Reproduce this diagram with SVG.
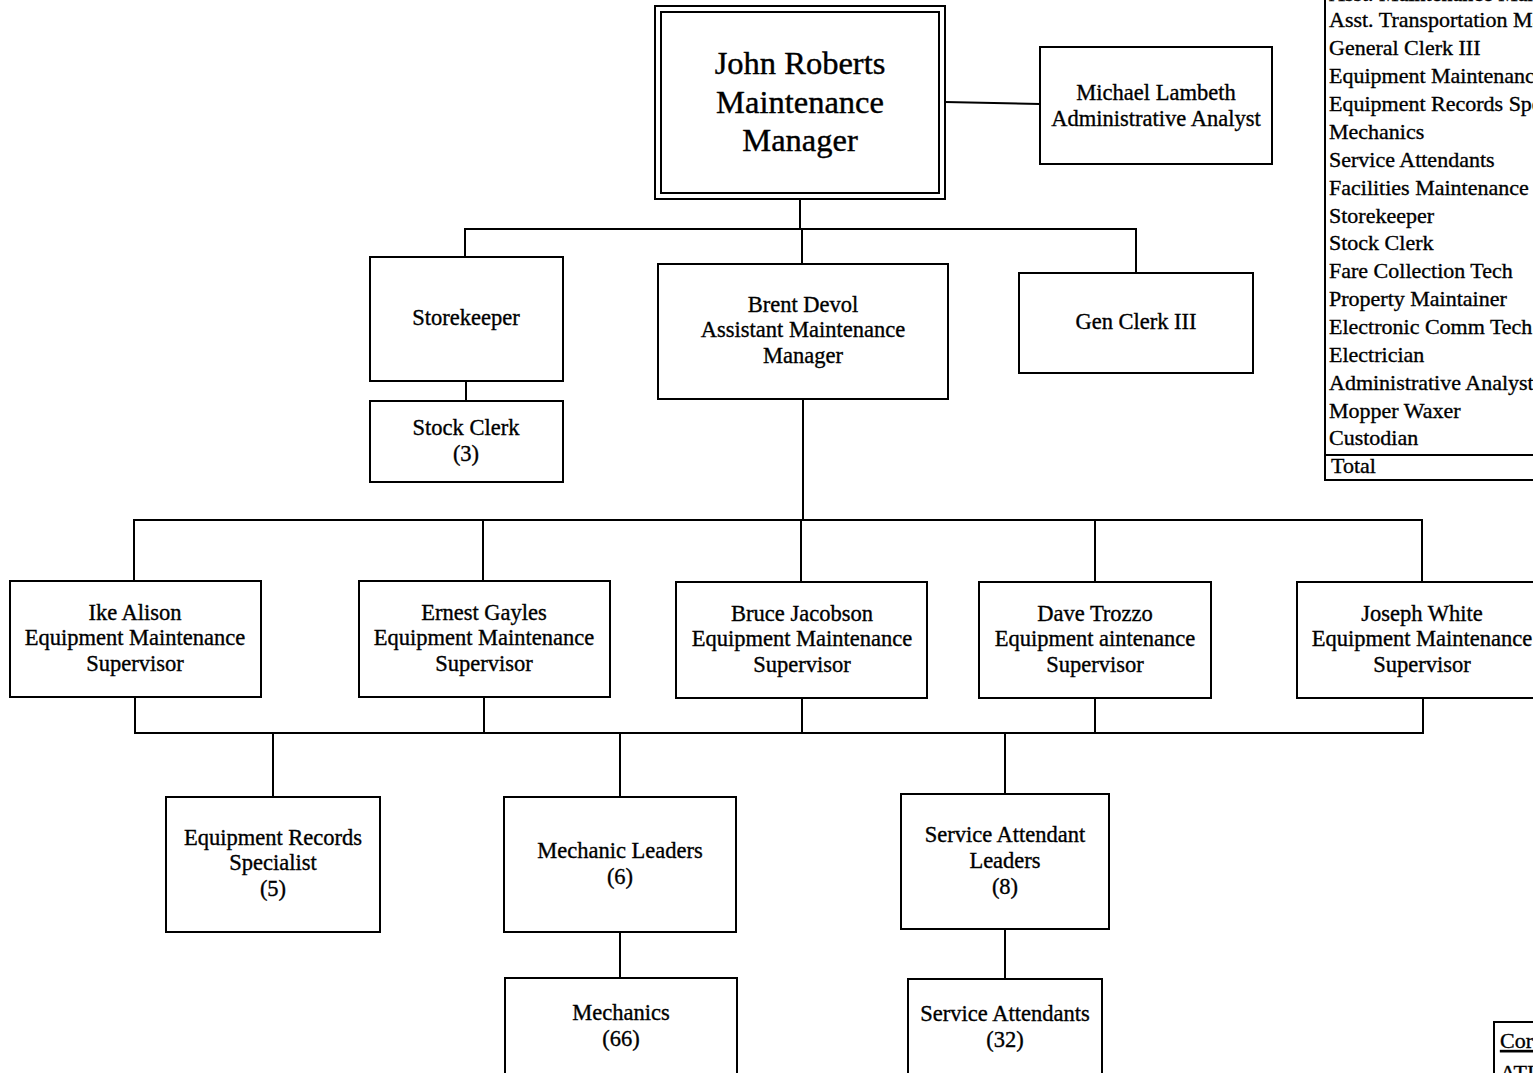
<svg xmlns="http://www.w3.org/2000/svg" width="1533" height="1073" viewBox="0 0 1533 1073">
<style>
.b{fill:#fff;stroke:#000;stroke-width:2}
.t{font-family:"Liberation Serif","Times New Roman",serif;font-size:22.5px;fill:#000;stroke:#000;stroke-width:0.35;text-anchor:middle}
.big{font-size:32.5px;stroke-width:0.4}
.tl{font-family:"Liberation Serif","Times New Roman",serif;font-size:22px;fill:#000;stroke:#000;stroke-width:0.35}
.c{fill:none;stroke:#000;stroke-width:2}
</style>
<rect width="1533" height="1073" fill="#fff"/>
<g id="connectors">
<path class="c" d="M945,102 L1040,104"/>
<path class="c" d="M800,199 V229 M465,257 V229 H1136 V273 M802,229 V264"/>
<path class="c" d="M466,381 V401"/>
<path class="c" d="M803,399 V520 M134,581 V520 H1422 V582 M483,520 V581 M801,520 V582 M1095,520 V582"/>
<path class="c" d="M135,697 V733 H1423 V698 M484,697 V733 M802,698 V733 M1095,698 V733"/>
<path class="c" d="M273,733 V797 M620,733 V797 M1005,733 V794"/>
<path class="c" d="M620,932 V978 M1005,929 V979"/>
</g>
<g id="john-roberts">
<rect class="b" x="655" y="6" width="290" height="193"/>
<rect class="b" x="661" y="12" width="278" height="181"/>
<text class="t big" x="800" y="74">John Roberts</text>
<text class="t big" x="800" y="113">Maintenance</text>
<text class="t big" x="800" y="151">Manager</text>
</g>
<g id="michael-lambeth">
<rect class="b" x="1040" y="47" width="232" height="117"/>
<text class="t" x="1156" y="100">Michael Lambeth</text>
<text class="t" x="1156" y="126">Administrative Analyst</text>
</g>
<g id="storekeeper">
<rect class="b" x="370" y="257" width="193" height="124"/>
<text class="t" x="466" y="325">Storekeeper</text>
</g>
<g id="stock-clerk">
<rect class="b" x="370" y="401" width="193" height="81"/>
<text class="t" x="466" y="435">Stock Clerk</text>
<text class="t" x="466" y="461">(3)</text>
</g>
<g id="brent-devol">
<rect class="b" x="658" y="264" width="290" height="135"/>
<text class="t" x="803" y="312">Brent Devol</text>
<text class="t" x="803" y="337">Assistant Maintenance</text>
<text class="t" x="803" y="363">Manager</text>
</g>
<g id="gen-clerk">
<rect class="b" x="1019" y="273" width="234" height="100"/>
<text class="t" x="1136" y="329">Gen Clerk III</text>
</g>
<g id="ike-alison">
<rect class="b" x="10" y="581" width="251" height="116"/>
<text class="t" x="135" y="620">Ike Alison</text>
<text class="t" x="135" y="645">Equipment Maintenance</text>
<text class="t" x="135" y="671">Supervisor</text>
</g>
<g id="ernest-gayles">
<rect class="b" x="359" y="581" width="251" height="116"/>
<text class="t" x="484" y="620">Ernest Gayles</text>
<text class="t" x="484" y="645">Equipment Maintenance</text>
<text class="t" x="484" y="671">Supervisor</text>
</g>
<g id="bruce-jacobson">
<rect class="b" x="676" y="582" width="251" height="116"/>
<text class="t" x="802" y="621">Bruce Jacobson</text>
<text class="t" x="802" y="646">Equipment Maintenance</text>
<text class="t" x="802" y="672">Supervisor</text>
</g>
<g id="dave-trozzo">
<rect class="b" x="979" y="582" width="232" height="116"/>
<text class="t" x="1095" y="621">Dave Trozzo</text>
<text class="t" x="1095" y="646">Equipment aintenance</text>
<text class="t" x="1095" y="672">Supervisor</text>
</g>
<g id="joseph-white">
<rect class="b" x="1297" y="582" width="250" height="116"/>
<text class="t" x="1422" y="621">Joseph White</text>
<text class="t" x="1422" y="646">Equipment Maintenance</text>
<text class="t" x="1422" y="672">Supervisor</text>
</g>
<g id="equipment-records">
<rect class="b" x="166" y="797" width="214" height="135"/>
<text class="t" x="273" y="845">Equipment Records</text>
<text class="t" x="273" y="870">Specialist</text>
<text class="t" x="273" y="896">(5)</text>
</g>
<g id="mechanic-leaders">
<rect class="b" x="504" y="797" width="232" height="135"/>
<text class="t" x="620" y="858">Mechanic Leaders</text>
<text class="t" x="620" y="884">(6)</text>
</g>
<g id="service-attendant-leaders">
<rect class="b" x="901" y="794" width="208" height="135"/>
<text class="t" x="1005" y="842">Service Attendant</text>
<text class="t" x="1005" y="868">Leaders</text>
<text class="t" x="1005" y="894">(8)</text>
</g>
<g id="mechanics">
<rect class="b" x="505" y="978" width="232" height="110"/>
<text class="t" x="621" y="1020">Mechanics</text>
<text class="t" x="621" y="1046">(66)</text>
</g>
<g id="service-attendants">
<rect class="b" x="908" y="979" width="194" height="110"/>
<text class="t" x="1005" y="1021">Service Attendants</text>
<text class="t" x="1005" y="1047">(32)</text>
</g>
<g id="position-table">
<path class="c" d="M1325,-5 V480 H1540 M1325,455 H1540"/>
<text class="tl" x="1329" y="1">Asst. Maintenance Manager</text>
<text class="tl" x="1329" y="27">Asst. Transportation Manager</text>
<text class="tl" x="1329" y="55">General Clerk III</text>
<text class="tl" x="1329" y="83">Equipment Maintenance Supervisor</text>
<text class="tl" x="1329" y="111">Equipment Records Specialist</text>
<text class="tl" x="1329" y="139">Mechanics</text>
<text class="tl" x="1329" y="167">Service Attendants</text>
<text class="tl" x="1329" y="195">Facilities Maintenance Supervisor</text>
<text class="tl" x="1329" y="223">Storekeeper</text>
<text class="tl" x="1329" y="250">Stock Clerk</text>
<text class="tl" x="1329" y="278">Fare Collection Tech</text>
<text class="tl" x="1329" y="306">Property Maintainer</text>
<text class="tl" x="1329" y="334">Electronic Comm Tech</text>
<text class="tl" x="1329" y="362">Electrician</text>
<text class="tl" x="1329" y="390">Administrative Analyst</text>
<text class="tl" x="1329" y="418">Mopper Waxer</text>
<text class="tl" x="1329" y="445">Custodian</text>
<text class="tl" x="1331" y="473">Total</text>
</g>
<g id="corner-note">
<path class="c" d="M1540,1022 H1494 V1080"/>
<text class="tl" x="1500" y="1048" text-decoration="underline">Cor</text>
<text class="tl" x="1500" y="1080">ATI</text>
</g>
</svg>
